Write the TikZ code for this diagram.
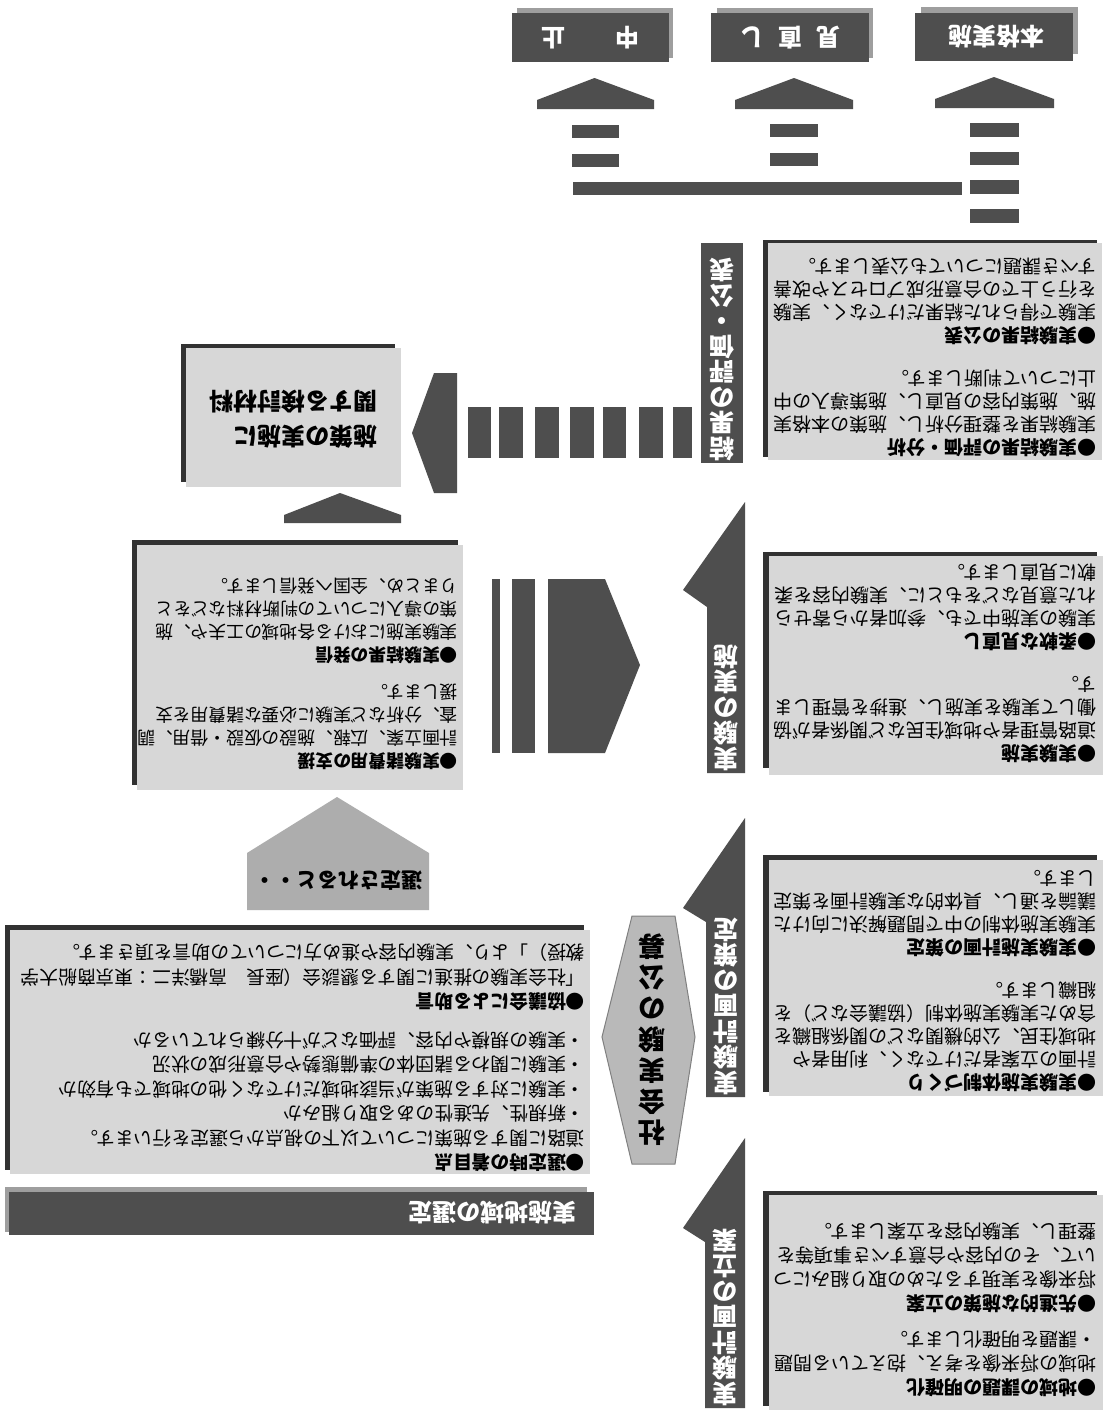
\documentclass[tikz,border=0pt]{standalone}
\usepackage{fontspec}
\newfontfamily\jp{Noto Sans CJK JP}
\definecolor{darkfill}{HTML}{4E4E4E}
\definecolor{shadowdark}{HTML}{323232}
\definecolor{lightbox}{HTML}{D7D7D7}
\definecolor{topshadow}{HTML}{9E9E9E}
\definecolor{midgray}{HTML}{ADADAD}
\definecolor{hexgray}{HTML}{B9B9B9}
\newcommand\jhead[1]{{\bfseries ●#1}}
\begin{document}
\begin{tikzpicture}[x=1pt,y=-1pt,
  bodytext/.style={rotate=180, anchor=north west, inner sep=0pt, align=left, text=black,
    font=\jp\fontsize{19}{23}\selectfont},
  labeltext/.style={rotate=180, anchor=north, inner sep=0pt, align=center, text=white,
    font=\jp\bfseries\fontsize{25}{25.5}\selectfont},
  toptext/.style={rotate=180, inner sep=0pt, text=white, font=\jp\bfseries\fontsize{24}{24}\selectfont},
  darkshape/.style={fill=darkfill},
  boxshadow/.style={fill=shadowdark},
  boxlight/.style={fill=lightbox}]
\useasboundingbox (0,0) rectangle (1110,1419);
\fill[white] (0,0) rectangle (1110,1419);

% ---------- top result boxes ----------
\fill[topshadow] (517,8) rectangle (673,58);
\fill[darkshape] (512,13) rectangle (669,62);
\node[toptext] (stop) at (590.5,37.5) {中\hspace{50pt}止};
\fill[topshadow] (717,8) rectangle (873,58);
\fill[darkshape] (711,13) rectangle (869,62);
\node[toptext] (review) at (790,37.5) {見\hspace{14pt}直\hspace{14pt}し};
\fill[topshadow] (921,7) rectangle (1078,54);
\fill[darkshape] (915,13) rectangle (1073,61);
\node[toptext] (full) at (996,37) {本格実施};

% arrowheads
\fill[darkshape] (537,109) -- (537,100) -- (594.5,78) -- (654,100) -- (654,109) -- cycle;
\fill[darkshape] (735,109) -- (735,100) -- (794,78) -- (853,100) -- (853,109) -- cycle;
\fill[darkshape] (935,108) -- (935,99) -- (994,77) -- (1054,99) -- (1054,108) -- cycle;
% dashed bars
\fill[darkshape] (572,125) rectangle (619,138);
\fill[darkshape] (572,154) rectangle (619,167);
\fill[darkshape] (770,124) rectangle (818,137);
\fill[darkshape] (770,153) rectangle (818,166);
\fill[darkshape] (970,123) rectangle (1019,137);
\fill[darkshape] (970,152) rectangle (1019,165);
\fill[darkshape] (970,180) rectangle (1019,194);
\fill[darkshape] (970,209) rectangle (1019,223);
\fill[darkshape] (573,182) rectangle (962,195);

% ---------- right column: labels ----------
\fill[darkshape] (701,243) rectangle (743,463);
\node[labeltext] (lab1) at (722,461) {結\\果\\の\\評\\価\\・\\公\\表};
\fill[darkshape] (745,502) -- (683,590) -- (707,607) -- (707,773) -- (745,773) -- cycle;
\node[labeltext] (lab2) at (726,771) {実\\験\\の\\実\\施};
\fill[darkshape] (745,818) -- (683,908) -- (706,922) -- (706,1097) -- (745,1097) -- cycle;
\node[labeltext] (lab3) at (725.5,1095) {実\\験\\計\\画\\の\\策\\定};
\fill[darkshape] (745,1138) -- (683,1228) -- (705,1242) -- (705,1408) -- (745,1408) -- cycle;
\node[labeltext] (lab4) at (725,1406) {実\\験\\計\\画\\の\\立\\案};

% ---------- right column: text boxes ----------
\fill[boxshadow] (763,240) rectangle (1097,457);
\fill[boxlight] (768,243) rectangle (1102,460);
\node[bodytext] (r1) at (1097,456.5) {\jhead{実験結果の評価・分析}\\
実験結果を整理分析し、施策の本格実\\
施、施策内容の見直し、施策導入の中\\
止について判断します。\\[20pt]
\jhead{実験結果の公表}\\
実験で得られた結果だけでなく、実験\\
を行う上での合意形成プロセスや改善\\
すべき課題についても公表します。};

\fill[boxshadow] (763,552) rectangle (1097,768);
\fill[boxlight] (769,556) rectangle (1103,775);
\node[bodytext] (r2) at (1097,762.5) {\jhead{実験実施}\\
道路管理者や地域住民など関係者が協\\
働して実験を実施し、進捗を管理しま\\
す。\\[20pt]
\jhead{柔軟な見直し}\\
実験の実施中でも、参加者から寄せら\\
れた意見などをもとに、実験内容を柔\\
軟に見直します。};

\fill[boxshadow] (763,855) rectangle (1097,1092);
\fill[boxlight] (769,860) rectangle (1103,1096);
\node[bodytext] (r3) at (1097,1092.5) {\jhead{実験実施体制づくり}\\
計画の立案者だけでなく、利用者や\\
地域住民、公的機関などの関係組織を\\
含めた実験実施体制（協議会など）を\\
組織します。\\[20pt]
\jhead{実験実施計画の策定}\\
実験実施体制の中で問題解決に向けた\\
議論を通し、具体的な実験計画を策定\\
します。};

\fill[boxshadow] (763,1191) rectangle (1097,1406);
\fill[boxlight] (769,1195) rectangle (1103,1410);
\node[bodytext, font=\jp\fontsize{19}{24}\selectfont] (r4) at (1097,1396.5) {\jhead{地域の課題の明確化}\\
地域の将来像を考え、抱えている問題\\
・課題を明確化します。\\[12pt]
\jhead{先進的な施策の立案}\\
将来像を実現するための取り組みにつ\\
いて、その内容や合意すべき事項等を\\
整理し、実験内容を立案します。};

% ---------- middle: result material box ----------
\fill[boxshadow] (181,344) rectangle (395,482);
\fill[boxlight] (186,348) rectangle (401,487);
\node[rotate=180, inner sep=0pt, align=left, font=\jp\bfseries\fontsize{24}{35}\selectfont] (material) at (293.5,419) {施策の実施に\\関する検討材料};
% dashed left arrow
\fill[darkshape] (457,373) -- (434,373) -- (412,433) -- (434,493) -- (457,493) -- cycle;
\foreach \xa/\xb in {468/491,499/523,535/559,570/594,603/626,639/663,673/692}
  \fill[darkshape] (\xa,407) rectangle (\xb,458);
% up arrow from support box
\fill[darkshape] (284,523) -- (284,515) -- (340,493) -- (401,515) -- (401,523) -- cycle;

% ---------- middle: support box ----------
\fill[boxshadow] (132,540) rectangle (458,785);
\fill[boxlight] (137,545) rectangle (463,790);
\node[bodytext, font=\jp\fontsize{17.8}{23}\selectfont] (support) at (458,769.5) {\jhead{実験諸費用の支援}\\
計画立案、広報、施設の仮設・借用、調\\
査、分析など実験に必要な諸費用を支\\
援します。\\[14pt]
\jhead{実験結果の発信}\\
実験実施における各地域の工夫や、施\\
策の導入についての判断材料などをと\\
りまとめ、全国へ発信します。};
% right pointing block arrow
\fill[darkshape] (492,579) rectangle (500,753);
\fill[darkshape] (512,579) rectangle (535,753);
\fill[darkshape] (548,579) -- (605,579) -- (640,665) -- (605,753) -- (548,753) -- cycle;

% ---------- selected pentagon ----------
\fill[midgray] (247,910) -- (247,853) -- (337,797) -- (429,853) -- (429,910) -- cycle;
\node[rotate=180, inner sep=0pt, font=\jp\bfseries\fontsize{21}{21}\selectfont] (selected) at (338,880) {選定されると・・};

% ---------- selection box ----------
\fill[boxshadow] (5,925) rectangle (584,1170);
\fill[boxlight] (10,930) rectangle (590,1174);
\node[bodytext, font=\jp\fontsize{18.8}{24.5}\selectfont] (criteria) at (585,1172) {\jhead{選定時の着目点}\\
道路に関する施策について以下の視点から選定を行います。\\
・新規性、先進性のある取り組みか\\
・実験に対する施策が当該地域だけでなく他の地域でも有効か\\
・実験に関わる諸団体の準備態勢や合意形成の状況\\
・実験の規模や内容、評価などが十分練られているか\\[14pt]
\jhead{協議会による助言}\\
「社会実験の推進に関する懇談会（座長　高橋洋二：東京商船大学\\
教授）」より、実験内容や進め方についての助言を頂きます。};

% header bar
\fill[topshadow] (5,1187) rectangle (587,1232);
\fill[darkshape] (9,1192) rectangle (594,1235);
\node[rotate=180, anchor=west, inner sep=0pt, text=white, font=\jp\bfseries\fontsize{24}{24}\selectfont] (region) at (577,1213) {実施地域の選定};

% ---------- hexagon ----------
\filldraw[fill=hexgray, draw=gray, line width=1pt] (632,916) -- (675,916) -- (695,1037) -- (675,1164) -- (632,1164) -- (602,1037) -- cycle;
\node[rotate=180, inner sep=0pt, align=center, font=\jp\bfseries\fontsize{27}{31}\selectfont] (call) at (652,1040) {社\\会\\実\\験\\の\\公\\募};
\end{tikzpicture}
\end{document}
